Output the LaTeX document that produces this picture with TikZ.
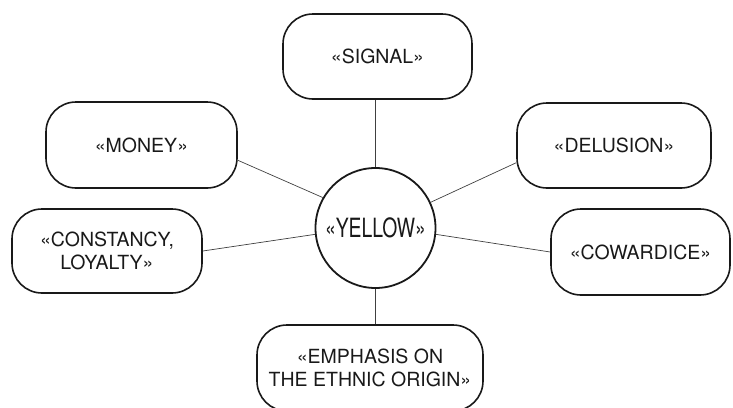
\documentclass[tikz,border=0pt]{standalone}
\usepackage{fontspec}
\usepackage{graphicx}
\setmainfont{TeX Gyre Heros}
\begin{document}
\begin{tikzpicture}[x=1pt,y=-1pt,
  idea/.style={draw=black!90, line width=1.6pt, rounded corners=30pt,
    align=center, text=black!90, font=\fontsize{19.5}{22.5}\selectfont,
    inner sep=0pt},
  hub/.style={circle, draw=black!90, line width=1.8pt, minimum size=120pt,
    inner sep=0pt, text=black!90},
  link/.style={draw=black!75, line width=0.7pt}]
\useasboundingbox (0,0) rectangle (733,407);

% central concept
\node[hub] (yellow) at (375.5,228) {\fontsize{26.5}{28}\selectfont\scalebox{0.73}[1]{«YELLOW»}};

% associations around it
\node[idea, minimum width=189pt, minimum height=85pt] (signal) at (377.5,56.5) {«SIGNAL»};
\node[idea, minimum width=191pt, minimum height=86pt] (money) at (141.5,145) {«MONEY»};
\node[idea, minimum width=194pt, minimum height=85pt] (delusion) at (614,145.5) {«DELUSION»};
\node[idea, minimum width=190pt, minimum height=84pt] (constancy) at (107,251) {«CONSTANCY,\\LOYALTY»};
\node[idea, minimum width=179pt, minimum height=86pt] (cowardice) at (640.5,252) {«COWARDICE»};
\node[idea, minimum width=226pt, minimum height=86pt] (emphasis) at (370,368) {«EMPHASIS ON\\THE ETHNIC ORIGIN»};

% connectors
\draw[link] (yellow.north) -- (yellow.north |- signal.south);
\draw[link] (yellow.south) -- (yellow.south |- emphasis.north);
\draw[link] (money.-9) -- (yellow.150);
\draw[link] (delusion.190) -- (yellow.25);
\draw[link] (constancy.0) -- (yellow.186);
\draw[link] (cowardice.180) -- (yellow.-6.5);
\end{tikzpicture}
\end{document}
